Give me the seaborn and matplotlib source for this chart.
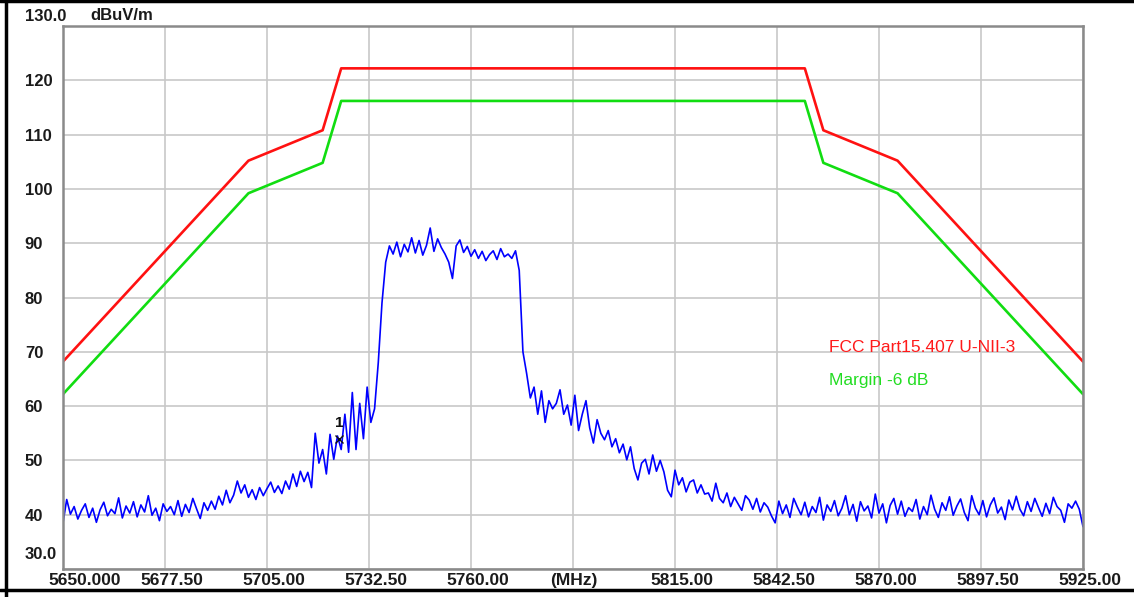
import numpy as np
import pandas as pd
import matplotlib
matplotlib.use("Agg")
import matplotlib.pyplot as plt
from matplotlib.lines import Line2D
from matplotlib.transforms import ScaledTranslation
import seaborn as sns

# Limit line (FCC Part15.407 U-NII-3) and the -6 dB margin line
limit_freq = [5650, 5700, 5720, 5725, 5850, 5855, 5875, 5925]
limit_level = [68.2, 105.2, 110.8, 122.2, 122.2, 110.8, 105.2, 68.2]
margin_level = [62.2, 99.2, 104.8, 116.2, 116.2, 104.8, 99.2, 62.2]

sweep_start = 5650
sweep_stop = 5925
trace_level = [
    38.5, 42.8, 40.1, 41.5, 39.2, 40.8, 42.0, 39.5, 41.2, 38.6,
    40.9, 42.3, 39.8, 41.0, 40.2, 43.1, 39.4, 41.6, 40.3, 42.4,
    39.6, 41.8, 40.5, 43.5, 39.9, 41.2, 38.9, 42.0, 40.6, 41.5,
    40.0, 42.6, 39.7, 41.9, 40.4, 43.0, 41.1, 39.3, 42.2, 40.8,
    42.5, 41.0, 43.4, 41.8, 44.5, 42.2, 43.6, 46.2, 44.0, 45.5,
    43.2, 44.6, 42.8, 45.0, 43.5, 44.8, 46.0, 44.1, 45.3, 43.9,
    46.2, 44.7, 47.5, 45.2, 48.0, 46.1, 47.8, 45.0, 55.0, 49.5,
    52.0, 47.5, 54.8, 50.2, 54.5, 52.0, 58.5, 51.5, 62.5, 52.0,
    60.5, 54.0, 63.5, 57.0, 59.5, 68.0, 79.0, 86.5, 89.5, 88.0,
    90.2, 87.5, 89.8, 88.4, 91.0, 88.2, 90.5, 87.8, 89.6, 92.8,
    88.5, 90.8, 89.2, 88.0, 86.5, 83.5, 89.5, 90.6, 88.3, 89.4,
    87.6, 88.8, 87.2, 88.5, 86.8, 87.9, 88.6, 87.0, 89.0, 87.5,
    88.0, 87.2, 88.6, 85.0, 70.0, 66.0, 61.5, 63.5, 58.5, 62.8,
    57.0, 61.0, 59.5, 60.5, 63.0, 58.5, 60.2, 56.5, 62.0, 55.5,
    58.5, 61.0, 56.0, 53.2, 57.5, 55.0, 53.8, 55.5, 52.5, 54.0,
    51.4, 53.0, 50.1, 52.5, 48.5, 46.4, 49.5, 50.2, 47.5, 51.0,
    48.0, 50.0, 47.9, 44.5, 43.3, 48.2, 45.5, 46.8, 44.2, 46.0,
    46.4, 44.0, 45.5, 43.8, 44.0, 42.5, 45.8, 43.0, 42.2, 44.0,
    41.5, 43.2, 42.0, 40.8, 43.5, 42.7, 41.0, 43.0, 40.5, 42.2,
    41.4, 39.8, 38.5, 42.5, 40.2, 41.8, 39.5, 43.0, 41.4, 40.0,
    42.3, 39.6, 41.5, 40.4, 43.2, 39.0, 41.8, 40.6, 42.6, 39.8,
    41.2, 43.5, 40.0, 41.9, 38.8, 42.4, 40.7, 41.6, 39.4, 43.8,
    40.3, 42.0, 38.5, 41.7, 43.0, 40.1, 42.5, 39.7, 41.3, 40.6,
    42.8, 39.2, 41.5, 40.0, 43.6, 41.0, 39.5, 42.2, 40.8, 43.3,
    39.9, 41.6, 42.9, 40.4, 38.9, 43.5, 41.2, 40.0, 42.6, 39.6,
    41.8, 43.1, 40.3, 41.4, 39.1, 42.7, 40.9, 43.4, 41.0, 39.8,
    42.4, 40.6, 43.0, 41.3, 39.7, 42.1, 40.2, 43.2, 41.5, 40.8,
    38.6, 42.0, 41.2, 42.5, 41.0, 37.8,
]

# Marker 1
marker_freq = 5724.5
marker_level = 54.0

x_ticks = [5650, 5677.5, 5705, 5732.5, 5760, 5787.5, 5815, 5842.5, 5870, 5897.5, 5925]
x_labels = ["5650.000", "5677.50", "5705.00", "5732.50", "5760.00", "(MHz)",
            "5815.00", "5842.50", "5870.00", "5897.50", "5925.00"]
y_ticks = [30, 40, 50, 60, 70, 80, 90, 100, 110, 120, 130]
y_labels = ["30.0", "40", "50", "60", "70", "80", "90", "100", "110", "120", "130.0"]

limit_df = pd.DataFrame({"freq": limit_freq, "limit": limit_level, "margin": margin_level})
trace_df = pd.DataFrame({
    "freq": np.linspace(sweep_start, sweep_stop, len(trace_level)),
    "level": trace_level,
})

sns.set_style("white")
plt.rcParams["font.family"] = ["Liberation Sans", "DejaVu Sans"]

fig = plt.figure(figsize=(11.34, 5.97), dpi=100)
ax = fig.add_axes([63 / 1134, 28 / 597, 1020 / 1134, 543 / 597])

sns.lineplot(data=trace_df, x="freq", y="level", ax=ax, color="#0000ff",
             linewidth=1.2, estimator=None, sort=False)
sns.lineplot(data=limit_df, x="freq", y="margin", ax=ax, color="#11dd11",
             linewidth=1.9, estimator=None, sort=False)
sns.lineplot(data=limit_df, x="freq", y="limit", ax=ax, color="#ff1111",
             linewidth=1.9, estimator=None, sort=False)

# marker 1
ax.plot([marker_freq], [marker_level], marker="x", color="#111111",
        markersize=6, markeredgewidth=1.0, linestyle="none")
ax.annotate("1", (marker_freq, marker_level), xytext=(0, 6), textcoords="offset points",
            ha="center", va="bottom", fontsize=11, fontweight="bold", color="#111111")

ax.set_xlim(5650, 5925)
ax.set_ylim(30, 130)
ax.set_xlabel("")
ax.set_ylabel("")

ax.set_xticks(x_ticks)
ax.set_xticklabels(x_labels, fontsize=12.5, fontweight="bold", color="#1a1a1a")
ax.set_yticks(y_ticks)
ax.set_yticklabels(y_labels, fontsize=12, fontweight="bold", color="#1a1a1a")
ax.tick_params(axis="both", length=0)
ax.tick_params(axis="x", pad=3)
ax.tick_params(axis="y", pad=27.5)

# nudge tick labels the way the analyzer software draws them
for i, lab in enumerate(ax.get_xticklabels()):
    if i == 0:
        lab.set_horizontalalignment("left")
        dx = -15
    elif i == 5:
        dx = 1
    else:
        dx = 7
    lab.set_transform(lab.get_transform() + ScaledTranslation(dx / 100, 0, fig.dpi_scale_trans))
for i, lab in enumerate(ax.get_yticklabels()):
    lab.set_horizontalalignment("left")
    if i == 0:
        dy = 16
    elif i == len(y_ticks) - 1:
        dy = 11
    else:
        dy = 0
    lab.set_transform(lab.get_transform() + ScaledTranslation(0, dy / 100, fig.dpi_scale_trans))

ax.grid(True, color="#c8c8c8", linewidth=1.2)
ax.set_axisbelow(True)
for side in ["left", "right", "top", "bottom"]:
    ax.spines[side].set_visible(True)
    ax.spines[side].set_color("#8a8a8a")
    ax.spines[side].set_linewidth(1.8)

fig.text(90 / 1134, 1 - 16 / 597, "dBuV/m", ha="left", va="center",
         fontsize=12, fontweight="bold", color="#1a1a1a")

ax.text(5856.5, 70.7, "FCC Part15.407 U-NII-3", color="#ff1a1a", fontsize=12.5,
        ha="left", va="center")
ax.text(5856.5, 64.8, "Margin -6 dB", color="#22dd22", fontsize=12.5,
        ha="left", va="center")

# outer black frame of the screenshot
frame = dict(color="black", linewidth=2.5, transform=fig.transFigure)
fig.add_artist(Line2D([6 / 1134, 6 / 1134], [0, 1], **frame))
fig.add_artist(Line2D([0, 1], [1 - 1 / 597, 1 - 1 / 597], **frame))
fig.add_artist(Line2D([0, 1], [7 / 597, 7 / 597], **frame))

fig.savefig("out.png", dpi=100, facecolor="white")
